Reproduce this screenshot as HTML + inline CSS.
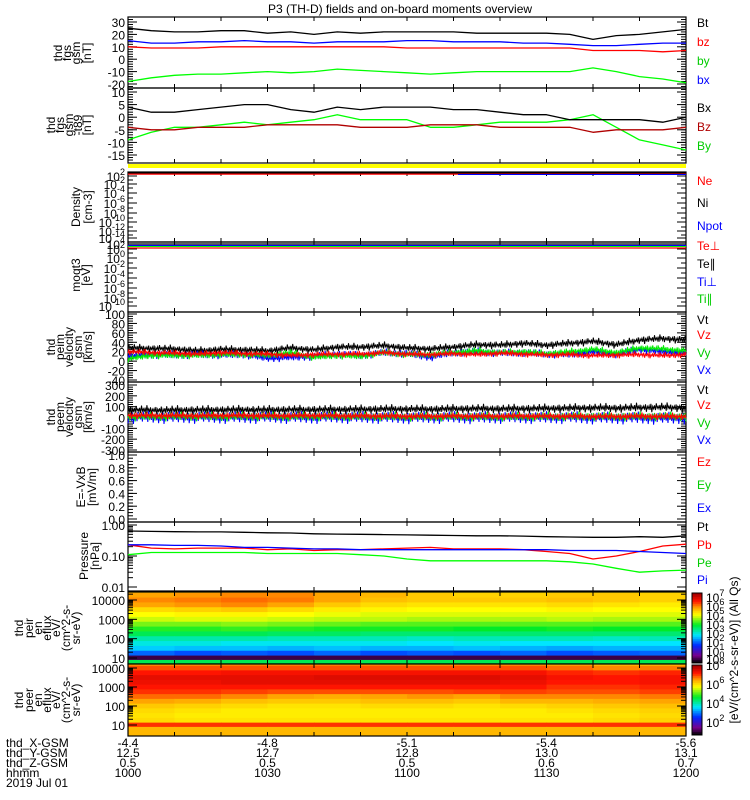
<!DOCTYPE html>
<html><head><meta charset="utf-8">
<style>
html,body{margin:0;padding:0;background:#fff;}
svg{display:block;font-family:"Liberation Sans",sans-serif;}
text{font-size:12px;}
</style></head>
<body>
<svg id="c" width="750" height="800" viewBox="0 0 750 800">
<text x="400" y="13" text-anchor="middle" font-size="13">P3 (TH-D) fields and on-board moments overview</text>
</svg>
<script>
// ---- data ----
const timeTicks = [1000,1030,1100,1130,1200];
const xGsm = ['-4.4','-4.8','-5.1','-5.4','-5.6'];
const yGsm = ['12.5','12.7','12.8','13.0','13.1'];
const zGsm = ['0.5','0.5','0.5','0.6','0.7'];
const hhmm = ['1000','1030','1100','1130','1200'];
const sampleMin = [0,5,10,15,20,25,30,35,40,45,50,55,60,65,70,75,80,85,90,95,100,105,110,115,120];
const fgsBt = [25,23,22,22,23,23,21,22,20,22,21,22,22,22,22,21,21,21,21,20,16,19,20,22,24];
const fgsBx = [15,13,13,14,14,15,14,14,13,14,14,14,15,15,14,14,14,13,13,12,11,11,12,13,13];
const fgsBz = [10,9,9,9,10,10,10,10,10,10,10,10,9,9,9,9,9,9,9,9,7,7,7,6,7];
const fgsBy = [-18,-15,-13,-12,-12,-11,-10,-11,-10,-8,-9,-10,-11,-12,-11,-10,-10,-10,-10,-10,-7,-10,-14,-16,-19];
const dBx = [4,2,2,3,4,5,5,3,2,4,3,4,4,4,3,3,2,1,1,-1,-1,-1,-1,-2,0];
const dBz = [-4,-5,-5,-4,-4,-4,-3,-3,-3,-3,-4,-4,-4,-3,-3,-3,-4,-4,-4,-4,-6,-5,-5,-5,-4];
const dBy = [-9,-6,-4,-4,-3,-2,-3,-2,-1,1,-1,-1,-1,-4,-4,-3,-2,-2,-2,-1,1,-4,-9,-11,-13];
const v1Vt = [28,27,26,22,25,24,22,28,24,30,30,33,28,26,30,35,34,38,34,38,42,35,45,48,45];
const v1Vz = [20,18,17,15,18,16,15,12,14,15,15,18,15,14,16,14,17,15,13,14,12,13,14,12,14];
const v1Vy = [5,12,12,12,14,14,12,18,8,12,10,18,14,14,18,22,18,20,16,20,25,18,28,26,22];
const v1Vx = [10,14,13,14,13,14,6,8,10,15,12,18,16,8,18,20,17,18,15,14,20,15,25,20,18];
const v1Amp = [9,7,8,9];
const v2Vt = [70,68,68,70,70,72,70,72,72,74,75,78,78,76,80,82,80,82,84,86,90,88,92,95,90];
const v2Vz = [20,18,18,16,18,18,16,16,18,16,14,14,12,12,14,12,12,14,12,12,10,10,12,10,10];
const v2Vy = [10,8,10,10,8,10,10,8,10,10,8,8,6,6,8,8,6,8,8,10,10,8,10,10,8];
const v2Vx = [0,2,0,2,0,0,2,0,0,2,0,0,-2,0,0,-2,0,0,-2,0,-5,-5,-5,-8,-5];
const v2Amp = [45,35,45,60];
const pPt = [.64,.62,.61,.60,.60,.58,.56,.55,.52,.51,.50,.49,.48,.47,.46,.45,.45,.44,.42,.41,.40,.40,.42,.40,.45];
const pPb = [.23,.18,.17,.18,.18,.18,.16,.17,.15,.16,.16,.17,.18,.19,.17,.17,.17,.16,.14,.12,.08,.10,.14,.21,.24];
const pPe = [.11,.13,.13,.13,.13,.13,.12,.12,.12,.12,.11,.10,.08,.07,.07,.07,.07,.07,.07,.065,.055,.04,.03,.033,.035];
const pPi = [.23,.23,.22,.22,.21,.19,.19,.18,.17,.17,.16,.16,.16,.16,.16,.16,.16,.16,.16,.15,.15,.15,.14,.13,.12];
// spectrogram: rows = log10 energy (top->bottom), cols = time bins (12 bins of 10 min)
const specLogE = [4.5,4.25,4.0,3.75,3.5,3.25,3.0,2.75,2.5,2.25,2.0,1.75,1.5,1.25,1.0,0.8];
const ionSpec = [
 [.74,.75,.76,.76,.75,.74,.72,.72,.72,.72,.72,.72],
 [.80,.81,.82,.82,.80,.78,.76,.75,.75,.76,.76,.75],
 [.82,.83,.84,.83,.80,.77,.76,.76,.76,.77,.76,.75],
 [.80,.81,.82,.80,.76,.74,.73,.73,.73,.74,.73,.72],
 [.74,.75,.76,.74,.72,.71,.70,.70,.70,.71,.70,.70],
 [.70,.71,.71,.70,.69,.68,.68,.68,.68,.68,.68,.68],
 [.67,.68,.68,.67,.66,.66,.65,.65,.65,.66,.65,.65],
 [.62,.62,.63,.62,.61,.60,.60,.60,.60,.60,.60,.60],
 [.57,.57,.58,.57,.56,.56,.56,.55,.55,.56,.55,.55],
 [.52,.52,.52,.51,.51,.50,.50,.50,.50,.50,.50,.50],
 [.46,.46,.46,.45,.45,.45,.44,.45,.45,.45,.44,.45],
 [.42,.42,.41,.41,.41,.41,.40,.41,.40,.40,.40,.40],
 [.38,.37,.37,.36,.37,.36,.36,.37,.36,.35,.36,.36],
 [.30,.28,.29,.28,.30,.28,.29,.28,.30,.28,.29,.30],
 [.05,.05,.05,.05,.05,.05,.05,.05,.05,.05,.05,.05],
 [.52,.52,.52,.52,.52,.52,.52,.52,.52,.52,.52,.52]];
const eleSpec = [
 [.74,.74,.74,.74,.74,.74,.74,.74,.74,.72,.70,.70],
 [.80,.80,.81,.81,.81,.81,.80,.80,.80,.78,.76,.76],
 [.86,.86,.86,.86,.86,.86,.86,.86,.86,.84,.82,.83],
 [.90,.90,.91,.91,.91,.91,.91,.91,.91,.89,.88,.89],
 [.93,.93,.93,.93,.94,.94,.94,.94,.93,.91,.90,.91],
 [.92,.92,.93,.93,.93,.93,.93,.93,.92,.90,.90,.91],
 [.90,.90,.90,.90,.90,.90,.90,.90,.90,.88,.88,.89],
 [.88,.88,.87,.86,.86,.86,.86,.87,.87,.86,.86,.87],
 [.84,.84,.82,.80,.79,.80,.81,.80,.82,.82,.82,.83],
 [.80,.79,.77,.76,.76,.77,.77,.76,.78,.78,.79,.80],
 [.76,.75,.74,.73,.73,.74,.74,.73,.74,.75,.76,.77],
 [.74,.73,.72,.72,.72,.72,.72,.72,.72,.73,.74,.75],
 [.73,.72,.72,.72,.72,.72,.72,.72,.72,.72,.73,.74],
 [.74,.73,.73,.73,.73,.73,.73,.73,.73,.73,.74,.75],
 [.88,.88,.88,.88,.88,.88,.88,.88,.88,.88,.88,.88],
 [.78,.78,.78,.78,.78,.78,.78,.78,.78,.78,.78,.78]];

// ---- helpers ----
const svg = document.getElementById('c');
const NS = 'http://www.w3.org/2000/svg';
const X0 = 128, X1 = 686;
function xT(min){ return X0 + (X1 - X0) * min / 120; }
function mk(tag, attrs, parent){
  const e = document.createElementNS(NS, tag);
  for (const k in attrs) e.setAttribute(k, attrs[k]);
  (parent || svg).appendChild(e);
  return e;
}
function txt(x, y, s, opts){
  const e = mk('text', Object.assign({x:x, y:y}, opts || {}));
  e.textContent = s;
  return e;
}
function linY(v0, v1, y0, y1){ return v => y0 + (v - v0) * (y1 - y0) / (v1 - v0); }
function logY(l0, l1, y0, y1){ return v => y0 + (Math.log10(v) - l0) * (y1 - y0) / (l1 - l0); }

function panelFrame(name, top, bot){
  const g = mk('g', {});
  
  
  mk('rect', {x:X0, y:top, width:X1-X0, height:bot-top, fill:'none', stroke:'#000', 'stroke-width':1.2}, g);
  for (let m = 10; m < 120; m += 10){
    const x = xT(m);
    mk('line', {x1:x, y1:top, x2:x, y2:top+4, stroke:'#000'}, g);
    mk('line', {x1:x, y1:bot, x2:x, y2:bot-4, stroke:'#000'}, g);
  }
  return g;
}
function yTicks(g, yList, labels, minors){
  yList.forEach((y, i) => {
    mk('line', {x1:X0, y1:y, x2:X0+9, y2:y, stroke:'#000'}, g);
    mk('line', {x1:X1, y1:y, x2:X1-9, y2:y, stroke:'#000'}, g);
    if (labels[i] !== null){
      const t = txt(125, y+5, '', {'text-anchor':'end', 'font-size':13});
      
      
      if (typeof labels[i] === 'object'){
        const a = document.createElementNS(NS,'tspan'); a.textContent = '10'; t.appendChild(a);
        const b = document.createElementNS(NS,'tspan'); b.textContent = labels[i].e; b.setAttribute('dy','-6'); b.setAttribute('font-size','9'); t.appendChild(b);
      } else t.textContent = labels[i];
    }
  });
  (minors || []).forEach(y => {
    mk('line', {x1:X0, y1:y, x2:X0+5, y2:y, stroke:'#000'}, g);
    mk('line', {x1:X1, y1:y, x2:X1-5, y2:y, stroke:'#000'}, g);
  });
}
function sideLabel(name, lines, xs, yc){
  lines.forEach((s, i) => {
    const t = txt(xs[i], yc, s, {'text-anchor':'middle', transform:'rotate(-90 '+xs[i]+' '+yc+')', 'font-size':12});
    
    
  });
}
function legend(items){
  items.forEach(it => {
    const t = txt(697, it[2], it[0], {fill:it[1], 'font-size':12});
    
    
  });
}
function series(name, vals, yf, color, w){
  const pts = sampleMin.map((m, i) => xT(m).toFixed(1) + ',' + yf(vals[i]).toFixed(1)).join(' ');
  const p = mk('polyline', {points:pts, fill:'none', stroke:color, 'stroke-width':w || 1.3, 'stroke-linejoin':'round'});
  
  
}
function noisy(name, vals, amp, yf, color, clipTop, clipBot, seed){
  let pts = [];
  let k = 0;
  for (let x = X0; x <= X1; x += 0.9, k++){
    const m = (x - X0) / (X1 - X0) * 120;
    const i = Math.min(23, Math.floor(m / 5));
    const f = (m - sampleMin[i]) / 5;
    const v = vals[i] + (vals[i+1] - vals[i]) * f;
    const h = ((k * 37 + seed * 11) % 17) / 16;
    const s = (k % 2 ? 1 : -1) * amp * (0.2 + 0.8 * h * h);
    let y = yf(v + s);
    y = Math.max(clipTop, Math.min(clipBot, y));
    pts.push(x.toFixed(1) + ',' + y.toFixed(1));
  }
  const p = mk('polyline', {points:pts.join(' '), fill:'none', stroke:color, 'stroke-width':1});
  
  
}
function cmap(v){
  const stops = [[0,[0,0,0]],[0.1,[120,0,140]],[0.25,[0,40,255]],[0.4,[0,230,255]],[0.55,[0,235,40]],[0.7,[255,255,0]],[0.8,[255,165,0]],[0.9,[255,20,0]],[1,[170,0,0]]];
  for (let i = 1; i < stops.length; i++){
    if (v <= stops[i][0]){
      const a = stops[i-1], b = stops[i], f = (v - a[0]) / (b[0] - a[0]);
      return 'rgb(' + a[1].map((c, j) => Math.round(c + (b[1][j] - c) * f)).join(',') + ')';
    }
  }
  return 'rgb(170,0,0)';
}

// ---- panel 1: fgs gsm ----
{
  const top = 17, bot = 88;
  const g = panelFrame('fgs-gsm-panel', top, bot);
  const yf = linY(30, -20, 22, 84);
  const maj = [30,20,10,0,-10,-20];
  const minors = []; for (let v = -22; v <= 32; v += 2) minors.push(yf(v));
  yTicks(g, maj.map(yf), maj.map(String), minors.filter(y => y > top && y < bot));
  series('line-by', fgsBy, yf, '#00ff00');
  series('line-bz', fgsBz, yf, '#ff0000');
  series('line-bx', fgsBx, yf, '#0000ff');
  series('line-bt', fgsBt, yf, '#000');
  sideLabel('fgs-gsm-ylabel', ['thd','fgs','gsm','[nT]'], [62,71,80,91], 53);
  legend([['Bt','#000',27],['bz','#ff0000',46],['by','#00cc00',65],['bx','#0000ff',84]]);
}
// ---- panel 2: fgs gsm - t89 ----
{
  const top = 88, bot = 163;
  const g = panelFrame('fgs-t89-panel', top, bot);
  const yf = linY(10, -15, 92, 155);
  const maj = [10,5,0,-5,-10,-15];
  const minors = []; for (let v = -17; v <= 11; v += 1) minors.push(yf(v));
  yTicks(g, maj.map(yf), maj.map(String), minors.filter(y => y > top && y < bot));
  series('line-dby', dBy, yf, '#00ff00');
  series('line-dbz', dBz, yf, '#b00000');
  series('line-dbx', dBx, yf, '#000');
  sideLabel('fgs-t89-ylabel', ['thd','fgs','gsm','-t89','[nT]'], [55,64,73,82,91], 125);
  legend([['Bx','#000',112],['Bz','#b00000',131],['By','#00cc00',150]]);
}
// yellow flag bar
{
  const r = mk('rect', {x:X0, y:164, width:X1-X0, height:4, fill:'#ffff00'});
  
  
}
// ---- panel 3: density ----
{
  const top = 172, bot = 242;
  const g = panelFrame('density-panel', top, bot);
  const exps = [2,-2,-4,-6,-8,-10,-12,-14];
  const ys = [176,184,193,203,213,222,231,238];
  yTicks(g, ys, exps.map(e => ({e:String(e)})), [180,188,198,208,218,227,235]);
  mk('line', {x1:X0, y1:174, x2:X1, y2:174, stroke:'#ff0000', 'stroke-width':1.5});
  mk('line', {x1:X0+330, y1:174.5, x2:X1, y2:174.5, stroke:'#0000ff', 'stroke-width':1});
  mk('line', {x1:X0, y1:173, x2:X1, y2:173, stroke:'#000', 'stroke-width':1});
  sideLabel('density-ylabel', ['Density','[cm-3]'], [80,92], 207);
  legend([['Ne','#ff0000',185],['Ni','#000',207],['Npot','#0000ff',230]]);
}
// ---- panel 4: moqt3 ----
{
  const top = 242, bot = 312;
  const g = panelFrame('moqt3-panel', top, bot);
  const exps = ['4','2','0','-2','-4','-6','-8','-10'];
  const ys = [244,249,258,268,278,288,298,306];
  yTicks(g, ys, exps.map(e => ({e:e})), [253,263,273,283,293,302]);
  mk('line', {x1:X0, y1:244, x2:X1, y2:244, stroke:'#000', 'stroke-width':1.2});
  mk('line', {x1:X0, y1:245.5, x2:X1, y2:245.5, stroke:'#0000ff', 'stroke-width':1.2});
  mk('line', {x1:X0, y1:246.5, x2:X1, y2:246.5, stroke:'#00ff00', 'stroke-width':1});
  mk('line', {x1:X0, y1:248, x2:X1, y2:248, stroke:'#ff0000', 'stroke-width':1.3});
  sideLabel('moqt3-ylabel', ['moqt3','[eV]'], [80,90], 275);
  legend([['Te⊥','#ff0000',250],['Te∥','#000',268],['Ti⊥','#0000ff',286],['Ti∥','#00cc00',303]]);
}
// ---- panel 5: peim velocity ----
{
  const top = 312, bot = 382;
  const g = panelFrame('peim-velocity-panel', top, bot);
  const yf = linY(100, -40, 314, 380);
  const maj = [100,80,60,40,20,0,-20,-40];
  const minors = []; for (let v = -40; v <= 100; v += 5) minors.push(yf(v));
  yTicks(g, maj.map(yf), maj.map(String), minors);
  noisy('line-peim-vt', v1Vt, v1Amp[0], yf, '#000', top+1, bot-1, 1);
  noisy('line-peim-vx', v1Vx, v1Amp[3], yf, '#0000ff', top+1, bot-1, 2);
  noisy('line-peim-vy', v1Vy, v1Amp[2], yf, '#00ee00', top+1, bot-1, 3);
  noisy('line-peim-vz', v1Vz, v1Amp[1], yf, '#ff0000', top+1, bot-1, 4);
  sideLabel('peim-ylabel', ['thd','peim','velocity','gsm','[km/s]'], [55,64,73,82,92], 347);
  legend([['Vt','#000',324],['Vz','#ff0000',339],['Vy','#00cc00',357],['Vx','#0000ff',374]]);
}
// ---- panel 6: peem velocity ----
{
  const top = 382, bot = 452;
  const g = panelFrame('peem-velocity-panel', top, bot);
  const yf = linY(300, -300, 385, 450);
  const maj = [300,200,100,0,-100,-200,-300];
  const minors = []; for (let v = -300; v <= 300; v += 20) minors.push(yf(v));
  yTicks(g, maj.map(yf), maj.map(String), minors);
  noisy('line-peem-vt', v2Vt, v2Amp[0], yf, '#000', top+1, bot-1, 5);
  noisy('line-peem-vx', v2Vx, v2Amp[3], yf, '#0000ff', top+1, bot-1, 6);
  noisy('line-peem-vy', v2Vy, v2Amp[2], yf, '#00ee00', top+1, bot-1, 7);
  noisy('line-peem-vz', v2Vz, v2Amp[1], yf, '#ff0000', top+1, bot-1, 8);
  sideLabel('peem-ylabel', ['thd','peem','velocity','gsm','[km/s]'], [55,64,73,82,92], 417);
  legend([['Vt','#000',394],['Vz','#ff0000',409],['Vy','#00cc00',427],['Vx','#0000ff',444]]);
}
// ---- panel 7: E field ----
{
  const top = 452, bot = 522;
  const g = panelFrame('efield-panel', top, bot);
  const yf = linY(1, 0, 455, 519);
  const maj = [1,0.8,0.6,0.4,0.2,0];
  const minors = []; for (let v = 0; v <= 1.001; v += 0.05) minors.push(yf(v));
  yTicks(g, maj.map(yf), ['1.0','0.8','0.6','0.4','0.2','0.0'], minors);
  sideLabel('efield-ylabel', ['E=-VxB','[mV/m]'], [85,96], 487);
  legend([['Ez','#ff0000',466],['Ey','#00cc00',489],['Ex','#0000ff',512]]);
}
// ---- panel 8: pressure ----
{
  const top = 522, bot = 591;
  const g = panelFrame('pressure-panel', top, bot);
  const yf = logY(0, -2, 525, 587);
  const minors = [];
  [0.01,0.1].forEach(d => { for (let k = 2; k <= 9; k++) minors.push(yf(d*k)); });
  yTicks(g, [yf(1), yf(0.1), yf(0.01)], ['1.00','0.10','0.01'], minors);
  series('line-pe', pPe, yf, '#00ff00');
  series('line-pb', pPb, yf, '#ff0000');
  series('line-pi', pPi, yf, '#0000ff');
  series('line-pt', pPt, yf, '#000');
  sideLabel('pressure-ylabel', ['Pressure','[nPa]'], [88,99], 556);
  legend([['Pt','#000',531],['Pb','#ff0000',549],['Pe','#00cc00',567],['Pi','#0000ff',584]]);
}
// ---- spectrograms ----
function spectro(name, data, top, bot, yTen, yTenK){
  const g = mk('g', {});
  
  
  const yf = linY(4, 1, yTenK, yTen);
  const nCols = data[0].length;
  for (let r = 0; r < specLogE.length; r++){
    const e0 = r === 0 ? 10 : (specLogE[r-1] + specLogE[r]) / 2;
    const e1 = r === specLogE.length - 1 ? -10 : (specLogE[r] + specLogE[r+1]) / 2;
    const y0 = Math.max(top, yf(e0)), y1 = Math.min(bot, yf(e1));
    if (y1 <= y0) continue;
    for (let c = 0; c < nCols; c++){
      const cell = mk('rect', {x:xT(c*10).toFixed(2), y:y0.toFixed(2), width:((X1-X0)/nCols+0.6).toFixed(2), height:(y1-y0+0.4).toFixed(2), fill:cmap(data[r][c])}, g);
      
      
    }
  }
  const fr = panelFrame(name + '-axes', top, bot);
  const maj = [10000,1000,100,10];
  const minors = [];
  [10,100,1000].forEach(d => { for (let k = 2; k <= 9; k++) minors.push(yf(Math.log10(d*k))); });
  minors.push(yf(Math.log10(20000)));
  yTicks(fr, maj.map(v => yf(Math.log10(v))), maj.map(String), minors.filter(y => y > top && y < bot));
}
spectro('ion-spectrogram', ionSpec, 592, 664, 658, 600);
spectro('electron-spectrogram', eleSpec, 664, 736, 725, 668);
sideLabel('peir-ylabel', ['thd','peir','en','eflux','eV/','(cm^2-s-','sr-eV)'], [23,33,42,51,60,70,80], 628);
sideLabel('peer-ylabel', ['thd','peer','en','eflux','eV/','(cm^2-s-','sr-eV)'], [23,33,42,51,60,70,80], 700);

// ---- colorbars ----
function colorbar(name, top, bot, labels){
  const g = mk('g', {});
  
  
  const n = 40;
  for (let i = 0; i < n; i++){
    const y = bot - (i+1) * (bot - top) / n;
    mk('rect', {x:692, y:y.toFixed(2), width:10, height:((bot-top)/n+0.5).toFixed(2), fill:cmap(i/(n-1))}, g);
  }
  mk('rect', {x:692, y:top, width:10, height:bot-top, fill:'none', stroke:'#000'}, g);
  labels.forEach(l => {
    const t = txt(706, l[1], '', {'font-size':12});
    const a = document.createElementNS(NS,'tspan'); a.textContent = '10'; t.appendChild(a);
    const b = document.createElementNS(NS,'tspan'); b.textContent = l[0]; b.setAttribute('dy','-6'); b.setAttribute('font-size','9'); t.appendChild(b);
    
    
  });
}
colorbar('ion-colorbar', 593, 663, [['7',602],['6',611],['5',620],['4',629],['3',638],['2',647],['1',656],['0',664]]);
colorbar('electron-colorbar', 665, 735, [['8',670],['6',689],['4',708],['2',727]]);
{
  const t = txt(738, 650, '[eV/(cm^2-s-sr-eV)] (All Qs)', {'text-anchor':'middle', transform:'rotate(-90 738 650)', 'font-size':12});
  
  
}

// ---- bottom ephemeris labels ----
const rowNames = ['thd_X-GSM','thd_Y-GSM','thd_Z-GSM','hhmm'];
const rowVals = [xGsm, yGsm, zGsm, hhmm];
rowNames.forEach((nm, r) => {
  const y = 747 + r * 10;
  const t = txt(6, y, nm, {'font-size':12});
  
  
  timeTicks.forEach((tt, i) => {
    const hh = Math.floor(tt / 100), mm = tt % 100;
    const m = (hh - 10) * 60 + mm;
    const v = txt(xT(m), y, rowVals[r][i], {'text-anchor':'middle', 'font-size':12});
    
    
  });
});
{
  const t = txt(6, 787, '2019 Jul 01', {'font-size':12});
  
  
}
</script>
</body></html>
